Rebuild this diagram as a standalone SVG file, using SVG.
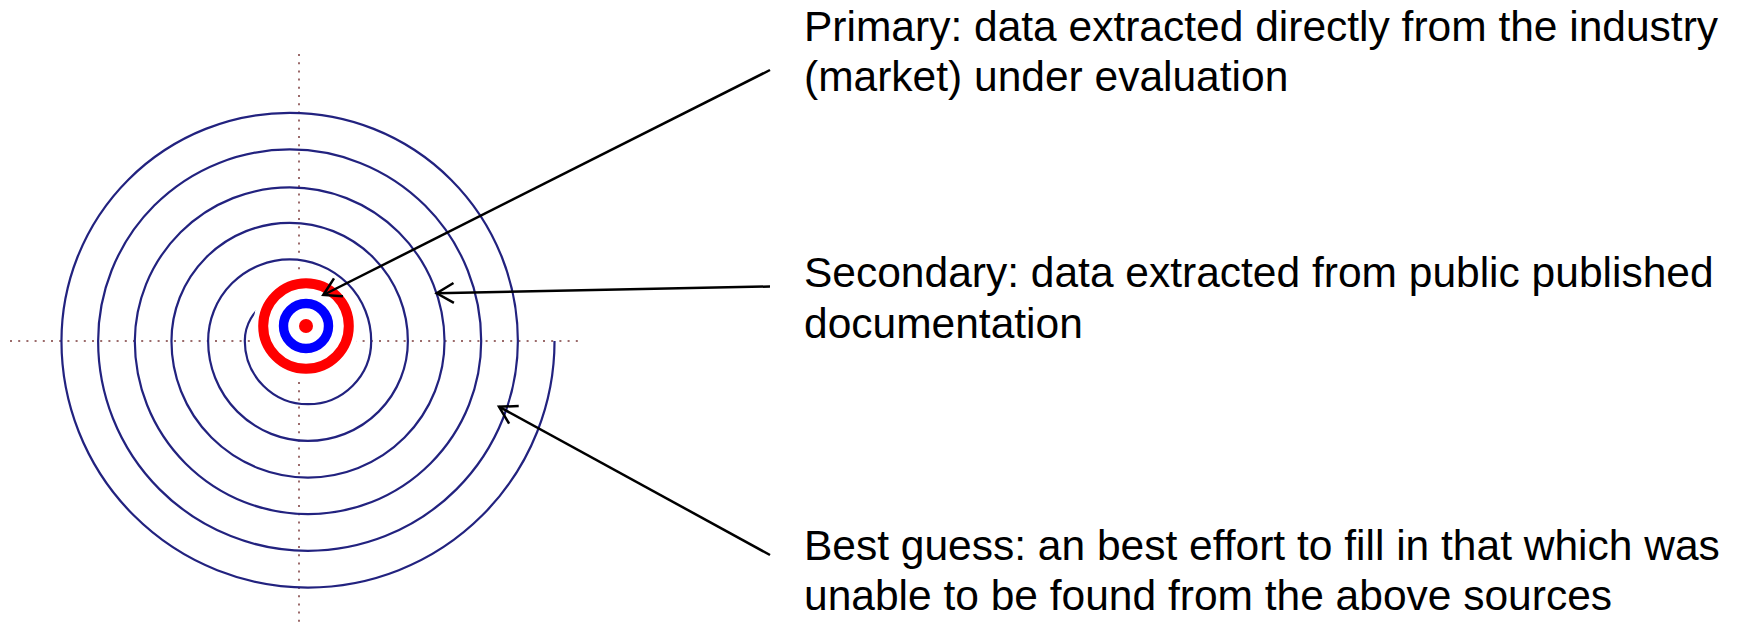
<svg xmlns="http://www.w3.org/2000/svg" width="1740" height="626" viewBox="0 0 1740 626">
  <style>
    .dots { stroke: #9b6b6b; stroke-width: 2; stroke-dasharray: 2 6.2; fill: none; }
    .spiral { stroke: #22227f; stroke-width: 2.2; fill: none; }
    .conn { stroke: #000; stroke-width: 2.5; fill: none; marker-end: url(#open); }
    .lbl { font-family: "Liberation Sans", Arial, sans-serif; font-size: 42.5px; fill: #000; }
  </style>
  <defs>
    <marker id="open" markerUnits="userSpaceOnUse" viewBox="-22 -14 26 28" markerWidth="26" markerHeight="28" refX="0" refY="0" orient="auto">
      <path d="M-17,-10 L0,0 L-17,10" fill="none" stroke="#000" stroke-width="2.5"/>
    </marker>
  </defs>
  <rect width="1740" height="626" fill="#fff"/>

  <g id="crosshair">
    <line class="dots" x1="299" y1="54" x2="299" y2="626"/>
    <line class="dots" x1="10" y1="341" x2="584" y2="341"/>
  </g>

  <g id="spiral">
    <path class="spiral" d="M 267.24 302.14
      A 44.87 44.87 0 0 0 244.8 341
      A 63.2 63.2 0 0 0 371.2 341
      A 81.53 81.53 0 0 0 208.13 341
      A 99.87 99.87 0 0 0 407.87 341
      A 118.2 118.2 0 0 0 171.47 341
      A 136.53 136.53 0 0 0 444.53 341
      A 154.87 154.87 0 0 0 134.8 341
      A 173.2 173.2 0 0 0 481.2 341
      A 191.53 191.53 0 0 0 98.13 341
      A 209.87 209.87 0 0 0 517.87 341
      A 228.2 228.2 0 0 0 61.47 341
      A 246.53 246.53 0 0 0 554.53 341"/>
  </g>

  <g id="target">
    <circle cx="306" cy="326" r="53" fill="#fff"/>
    <circle cx="306" cy="326" r="42.8" fill="#fff" stroke="#ff0000" stroke-width="10"/>
    <circle cx="306" cy="326" r="22.5" fill="#fff" stroke="#0000ff" stroke-width="9.4"/>
    <circle cx="306" cy="326" r="7" fill="#ff0000"/>
  </g>

  <g id="connectors">
    <line class="conn" x1="770" y1="70" x2="323.3" y2="295"/>
    <line class="conn" x1="770" y1="286.5" x2="436.7" y2="293.3"/>
    <line class="conn" x1="770" y1="555" x2="499" y2="406.7"/>
  </g>

  <g id="label-primary">
    <text class="lbl" x="804" y="41">Primary: data extracted directly from the industry</text>
    <text class="lbl" x="804" y="91">(market) under evaluation</text>
  </g>
  <g id="label-secondary">
    <text class="lbl" x="804" y="287">Secondary: data extracted from public published</text>
    <text class="lbl" x="804" y="338">documentation</text>
  </g>
  <g id="label-bestguess">
    <text class="lbl" x="804" y="559.5">Best guess: an best effort to fill in that which was</text>
    <text class="lbl" x="804" y="609.5">unable to be found from the above sources</text>
  </g>
</svg>
